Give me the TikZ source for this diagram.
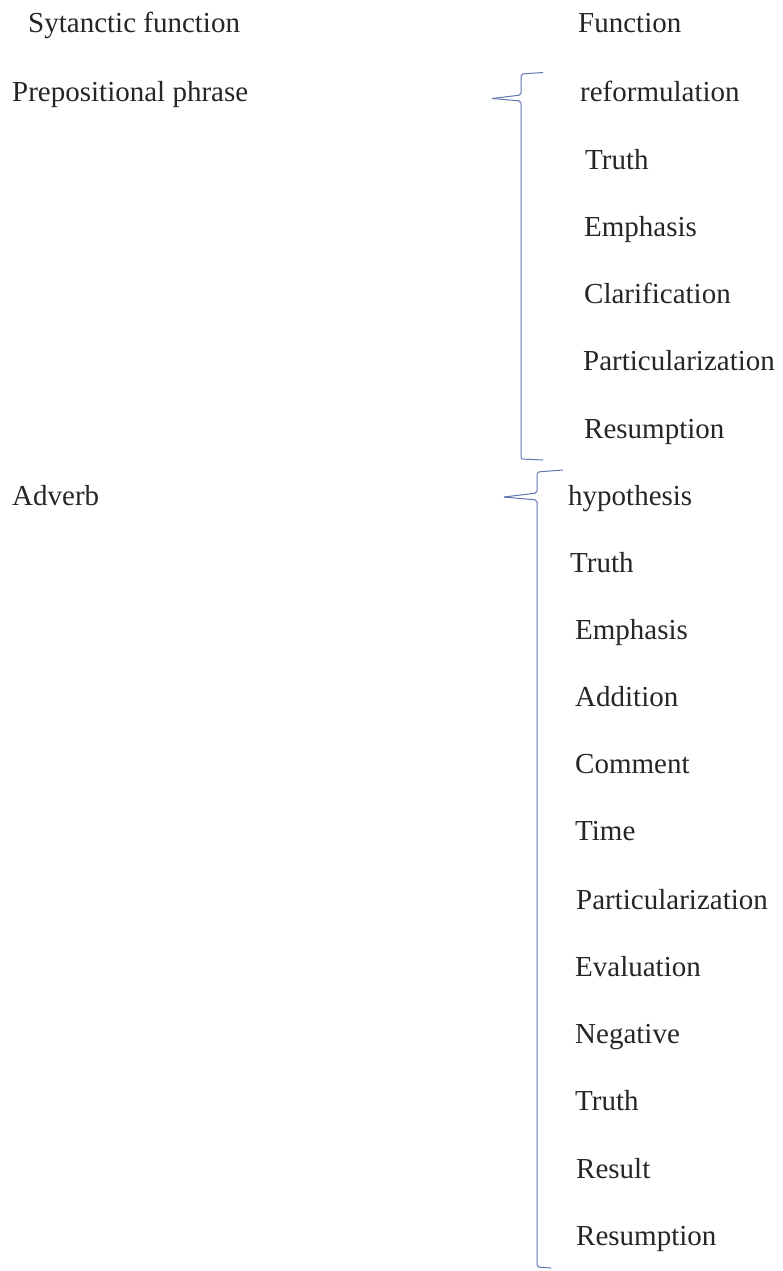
\documentclass[tikz,border=0pt]{standalone}
\usepackage{fontspec}
\setmainfont{Liberation Serif}
\definecolor{bracecol}{RGB}{98,118,178}
\begin{document}
\begin{tikzpicture}[x=1pt,y=-1pt,
  lbl/.style={anchor=base west,inner sep=0pt,font=\fontsize{29}{34}\selectfont,text=black!85},
  bracket/.style={draw=bracecol,line width=1pt,rounded corners=2pt}]
\useasboundingbox (0,0) rectangle (782,1271);
\fill[white] (0,0) rectangle (782,1271);
% column headings
\node[lbl] (hsyn) at (28,33) {Sytanctic function};
\node[lbl] (hfun) at (578,33) {Function};
% syntactic categories
\node[lbl] (pp) at (12,102) {Prepositional phrase};
\node[lbl] (adv) at (12,505) {Adverb};
% functions of the prepositional phrase
\node[lbl] (p1) at (580,102) {reformulation};
\node[lbl] (p2) at (585,169) {Truth};
\node[lbl] (p3) at (584,236) {Emphasis};
\node[lbl] (p4) at (584,303) {Clarification};
\node[lbl] (p5) at (583,370) {Particularization};
\node[lbl] (p6) at (584,438) {Resumption};
% functions of the adverb
\node[lbl] (a1) at (568,505) {hypothesis};
\node[lbl] (a2) at (570,572) {Truth};
\node[lbl] (a3) at (575,639) {Emphasis};
\node[lbl] (a4) at (575,706) {Addition};
\node[lbl] (a5) at (575,773) {Comment};
\node[lbl] (a6) at (575,840) {Time};
\node[lbl] (a7) at (576,909) {Particularization};
\node[lbl] (a8) at (575,976) {Evaluation};
\node[lbl] (a9) at (575,1043) {Negative};
\node[lbl] (a10) at (575,1110) {Truth};
\node[lbl] (a11) at (576,1178) {Result};
\node[lbl] (a12) at (576,1245) {Resumption};
% brace tips and ends
\coordinate (b1top) at (543,72.5);
\coordinate (b1tip) at (492,98.5);
\coordinate (b1bot) at (543,460);
\coordinate (b2top) at (563,470);
\coordinate (b2tip) at (504,497);
\coordinate (b2bot) at (551,1268);
% brace for the prepositional phrase
\draw[bracket] (b1top) -- (521,74) -- (521,95) -- (b1tip);
\draw[bracket] (b1tip) -- (521,101) -- (521,459) -- (b1bot);
% brace for the adverb
\draw[bracket] (b2top) -- (537,472) -- (537,493) -- (b2tip);
\draw[bracket] (b2tip) -- (537,500) -- (537,1267) -- (b2bot);
\end{tikzpicture}
\end{document}
